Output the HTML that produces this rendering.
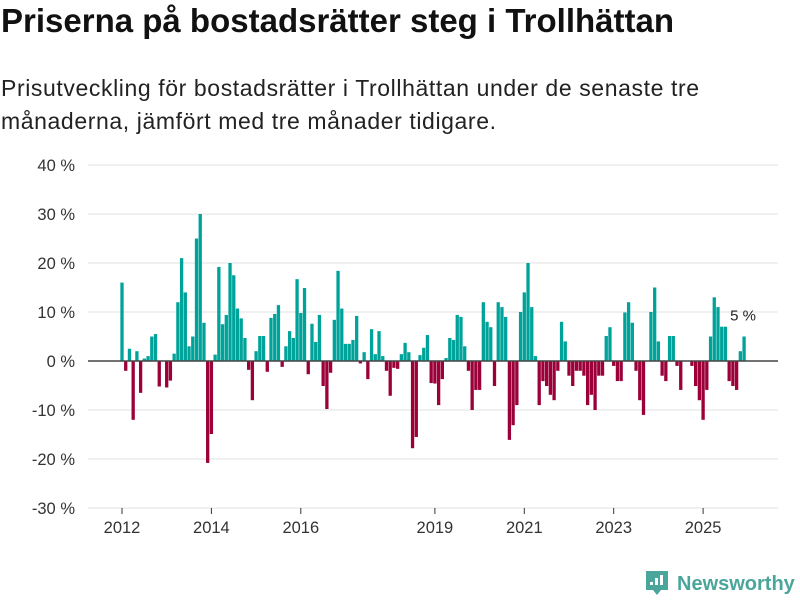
<!DOCTYPE html>
<html><head><meta charset="utf-8"><style>
body{margin:0;width:800px;height:600px;background:#fff;font-family:"Liberation Sans",sans-serif;overflow:hidden;position:relative}
#title{position:absolute;left:1px;top:2px;font-size:33px;font-weight:bold;color:#111;margin:0;white-space:nowrap}
#sub{position:absolute;left:1px;top:72px;font-size:23px;letter-spacing:0.6px;line-height:33px;color:#222;width:730px}
svg{position:absolute;left:0;top:0}
</style></head><body>
<h1 id="title">Priserna på bostadsrätter steg i Trollhättan</h1>
<div id="sub">Prisutveckling för bostadsrätter i Trollhättan under de senaste tre månaderna, jämfört med tre månader tidigare.</div>
<svg id="chart" width="800" height="600"></svg>
<script>
const values = [
16,-2,2.5,-12,2,-6.5,0.5,1,5,5.5,-5.2,0,
-5.4,-4,1.5,12,21,14,3,5,25,30,7.8,-20.8,
-14.9,1.3,19.2,7.5,9.4,20,17.5,10.7,8.7,4.7,-1.8,-8,
2,5.1,5.1,-2.2,8.8,9.6,11.4,-1.2,3,6.1,4.7,16.7,
9.8,14.9,-2.7,7.6,3.9,9.4,-5.1,-9.8,-2.4,8.4,18.4,10.7,
3.5,3.5,4.3,9.2,-0.5,1.8,-3.7,6.5,1.4,6.1,1,-2,
-7.1,-1.4,-1.6,1.4,3.7,1.8,-17.8,-15.5,1.2,2.7,5.3,-4.5,
-4.6,-9,-3.7,0.6,4.7,4.3,9.4,9,3,-2,-10,-5.9,
-5.9,12,8,6.9,-5.1,12,11,9,-16.1,-13.1,-9,10,
14,20,11,1,-9,-4.1,-5.1,-6.9,-8,-2,8,4,
-3,-5.1,-2,-2,-3,-9,-6.9,-10,-3,-3,5.1,6.9,
-1,-4.1,-4.1,9.9,12,7.8,-2,-8,-11,0,10,15,
4,-3,-4.1,5.1,5.1,-1,-5.9,0,0,-1,-5.1,-8,
-12,-5.9,5,13,11,7,7,-4.1,-5.1,-5.9,2,5];
const startYear = 2012;
const yTicks = [40,30,20,10,0,-10,-20,-30];
const xTickYears = [2012,2014,2016,2019,2021,2023,2025];
const lastLabel = "5 %";

const svg = document.getElementById('chart');
const NS = 'http://www.w3.org/2000/svg';
const y = v => 361 - v * 4.9;
const xm = i => 122 + i * 3.725;
function mk(tag, attrs){const e=document.createElementNS(NS,tag);for(const k in attrs)e.setAttribute(k,attrs[k]);svg.appendChild(e);return e;}

yTicks.forEach(t=>{
  const g = mk('line',{x1:88,x2:778,y1:y(t),y2:y(t),stroke:'#e0e0e0','stroke-width':1});
  
  
  const l = mk('text',{x:75,y:y(t)+6,'text-anchor':'end','font-size':16.5,fill:'#333','font-family':'Liberation Sans, sans-serif'});
  l.textContent = t + ' %';
  
  
});
xTickYears.forEach(yr=>{
  const i=(yr-startYear)*12;
  const tk = mk('line',{x1:xm(i),x2:xm(i),y1:508,y2:514,stroke:'#333','stroke-width':1});
  
  
  const l = mk('text',{x:xm(i),y:533,'text-anchor':'middle','font-size':16.5,fill:'#333','font-family':'Liberation Sans, sans-serif'});
  l.textContent = yr;
  
  
});
values.forEach((v,i)=>{
  if(v===0) return;
  const top = Math.min(y(v), y(0)), h = Math.abs(y(v)-y(0));
  const b = mk('rect',{x:xm(i)-1.65,y:top,width:3.3,height:h,fill: v>0 ? '#00a39a' : '#9b0039'});
  
  
});
const z = mk('line',{x1:88,x2:778,y1:y(0),y2:y(0),stroke:'#444','stroke-width':1.5});


const li = values.length-1;
const lbl = mk('text',{x:xm(li)-14,y:y(values[li])-16,'font-size':15,fill:'#222','font-family':'Liberation Sans, sans-serif'});
lbl.textContent = lastLabel;



const lg = mk('path',{d:'M646 571 h22 v19 h-7 l-4 5 l-4 -5 h-7 z',fill:'#4aa69b'});


[[650,582,3],[655,578,7],[660,575,10]].forEach(a=>{
  const r=mk('rect',{x:a[0],y:a[1],width:3,height:a[2],fill:'#fff'});
  
  
});
const lt = mk('text',{x:677,y:590,'font-size':20,'font-weight':'bold',fill:'#4aa69b','font-family':'Liberation Sans, sans-serif'});
lt.textContent='Newsworthy';


</script>
</body></html>
